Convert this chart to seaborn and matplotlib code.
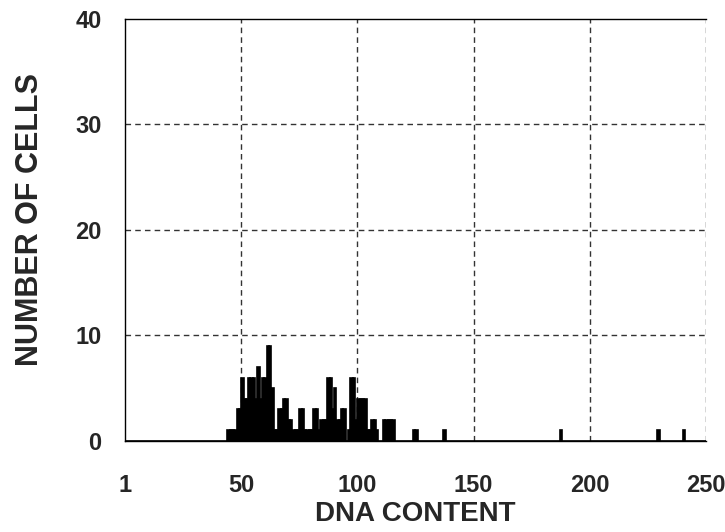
import pandas as pd
import seaborn as sns
import matplotlib
matplotlib.use("Agg")
import matplotlib.pyplot as plt

# DNA content bins (left edge) and number of cells in each
dna_content = [44, 45, 46, 47, 48, 49, 50, 51, 52, 53, 54, 55, 56, 57, 58, 59,
               60, 61, 62, 63, 64, 65, 66, 67, 68, 69, 70, 71, 72, 73, 74, 75,
               76, 77, 78, 79, 80, 81, 82, 83, 84, 85, 86, 87, 88, 89, 90, 91,
               92, 93, 94, 96, 97, 98, 99, 100, 101, 102, 103, 104, 105, 106,
               107, 108, 111, 112, 113, 114, 115, 124, 125, 137, 187, 229, 240]
cell_counts = [1, 1, 1, 1, 3, 3, 6, 4, 4, 6, 6, 6, 4, 7, 4, 6,
               6, 9, 9, 5, 1, 1, 3, 3, 4, 4, 2, 2, 1, 1, 1, 3,
               3, 1, 1, 1, 1, 3, 3, 1, 2, 2, 2, 6, 6, 3, 5, 2,
               2, 3, 3, 1, 6, 6, 2, 4, 4, 4, 4, 1, 1, 2,
               2, 1, 2, 2, 2, 2, 2, 1, 1, 1, 1, 1, 1]

x_ticks = [0, 50, 100, 150, 200, 250]
x_tick_labels = ["1", "50", "100", "150", "200", "250"]
y_ticks = [0, 10, 20, 30, 40]

df = pd.DataFrame({"dna": [v + 0.5 for v in dna_content], "cells": cell_counts})

sns.set_style("white")
plt.rcParams['font.family'] = ['Liberation Sans', 'DejaVu Sans']

fig = plt.figure(figsize=(7.25, 5.32), dpi=100)
ax = fig.add_axes([0.1724, 0.1711, 0.8014, 0.7932])

sns.histplot(data=df, x="dna", weights="cells", binwidth=1, binrange=(0, 250),
             color="black", edgecolor="black", linewidth=1.2, alpha=1, ax=ax)

ax.set_xlim(0, 250)
ax.set_ylim(0, 40)
ax.set_xticks(x_ticks)
ax.set_xticklabels(x_tick_labels)
ax.set_yticks(y_ticks)

# dashed grid
for xv in x_ticks[1:]:
    ax.axvline(xv, color="#333333", lw=1, ls=(0, (4, 3)), zorder=0)
for yv in y_ticks[1:4]:
    ax.axhline(yv, color="#333333", lw=1, ls=(0, (4, 3)), zorder=0)

for s in ["left", "bottom", "top"]:
    ax.spines[s].set_visible(True)
    ax.spines[s].set_color("black")
    ax.spines[s].set_linewidth(1)
ax.spines["right"].set_visible(False)

ax.tick_params(axis="both", which="major", direction="out", length=5, width=1,
               color="black", labelsize=17, pad=12)
ax.tick_params(axis="x", pad=19)
for lab in ax.get_xticklabels() + ax.get_yticklabels():
    lab.set_fontweight("bold")

ax.set_xlabel("DNA CONTENT", fontsize=20, fontweight="bold", labelpad=3)
ax.set_ylabel("NUMBER OF CELLS", fontsize=22, fontweight="bold")
ax.yaxis.set_label_coords(-0.138, 0.525)

fig.savefig("out.png", dpi=100)
